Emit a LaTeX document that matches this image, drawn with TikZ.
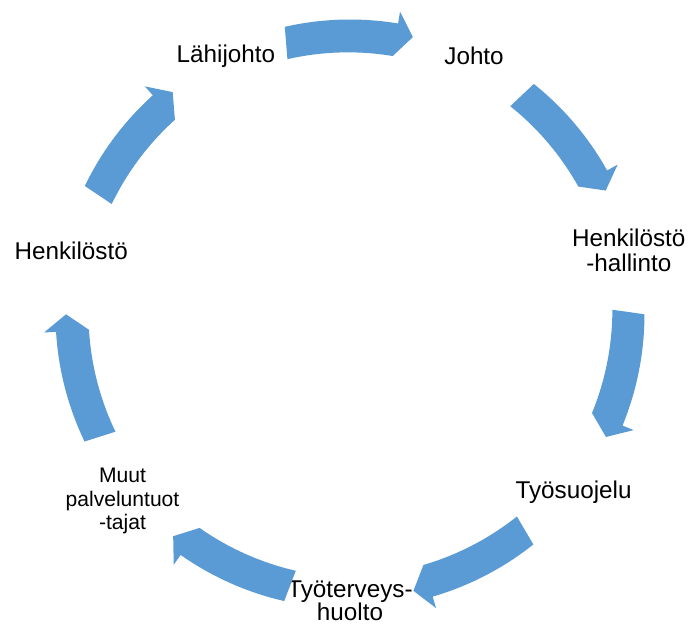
\documentclass[tikz,border=0pt]{standalone}
\usepackage{fontspec}
\setmainfont{Liberation Sans}
\usepackage{xcolor}
\usepackage{tikz}
\definecolor{CycBlue}{RGB}{91,155,213}

\begin{document}
\begin{tikzpicture}[
            lbl/.style={font=\fontsize{13.8}{14.4}\selectfont, align=center,
                        inner sep=0pt},
            sml/.style={font=\fontsize{12}{13.6}\selectfont, align=center,
                        inner sep=0pt},
            blockarr/.style={fill=CycBlue, draw=none}
          ]
          \useasboundingbox (-7.0,-6.24) rectangle (6.82,6.28);

          % the seven stations of the cycle
          \node[lbl] (lahi)   at (115.71:5.72) {Lähijohto};
          \node[lbl] (johto)  at (64.29:5.72)  {Johto};
          \node[lbl] (hallin) at (12.86:5.72)  {Henkilöstö\\-hallinto};
          \node[lbl] (suoj)   at (-38.57:5.72) {Työsuojelu};
          \node[lbl, font=\fontsize{13.8}{13}\selectfont] (terv) at (-90:5.74)
                {Työterveys-\\huolto};
          \node[sml] (muut)   at (-4.55,-3.74) {Muut\\palveluntuot\\-tajat};
          \node[lbl] (henk)   at (167.14:5.72) {Henkilöstö};

          % curved block arrows, clockwise
          \foreach \m in {90, 38.57, -12.86, -64.29, -115.71, -167.14, 141.43} {
            \pgfmathsetmacro\s{\m+12.8}
            \pgfmathsetmacro\e{\m-12.8}
            \pgfmathsetmacro\h{\m-12.8+3.4}
            \fill[blockarr] (\s:5.89) arc[start angle=\s, end angle=\h, radius=5.89]
                  -- (\h:6.13) -- (\e:5.68) -- (\h:5.23)
                  arc[start angle=\h, end angle=\s, radius=5.47] -- cycle;
          }
        \end{tikzpicture}
\end{document}
